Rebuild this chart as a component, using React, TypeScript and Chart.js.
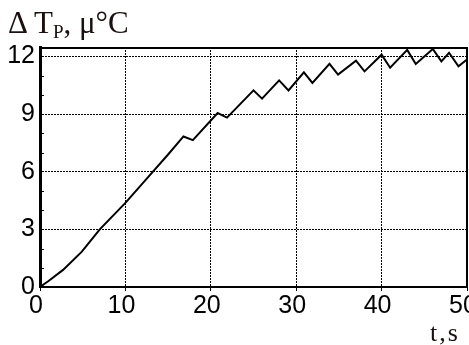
import React, { useEffect, useRef } from "react";
import { Chart, registerables } from "chart.js";

Chart.register(...registerables);

const times = [0, 1, 2.7, 4.9, 7, 10, 13.2, 15, 16.8, 17.9, 20.8, 21.9, 25, 26, 28, 29.1, 30.9, 31.9, 33.9, 34.9, 37, 38, 40, 41, 43, 44, 46, 47, 47.9, 49, 50];
const temps = [0, 0.31, 0.89, 1.84, 3.0, 4.38, 6.0, 6.9, 7.84, 7.65, 9.06, 8.82, 10.24, 9.81, 10.76, 10.24, 11.18, 10.63, 11.62, 11.06, 11.79, 11.23, 12.1, 11.42, 12.35, 11.62, 12.4, 11.75, 12.2, 11.49, 11.85];
const xTicks = [0, 10, 20, 30, 40, 50];
const yTicks = [0, 3, 6, 9, 12];
const yMinorTicks = [1, 2, 4, 5, 7, 8, 10, 11];

const frame = {
  id: "frame",
  afterDatasetsDraw(chart: any) {
    const { ctx, chartArea: a, scales } = chart;
    ctx.save();
    ctx.strokeStyle = "#000";
    ctx.lineWidth = 2;
    ctx.beginPath();
    ctx.moveTo(a.left, a.top + 1);
    ctx.lineTo(a.right, a.top + 1);
    ctx.moveTo(a.right, a.top);
    ctx.lineTo(a.right, a.bottom);
    ctx.stroke();
    ctx.lineWidth = 1;
    ctx.beginPath();
    for (const v of yMinorTicks) {
      const y = Math.round(scales.y.getPixelForValue(v)) + 0.5;
      ctx.moveTo(a.left, y);
      ctx.lineTo(a.left + 4, y);
    }
    ctx.stroke();
    ctx.restore();
  },
};

export default function App() {
  const ref = useRef<HTMLCanvasElement>(null);
  useEffect(() => {
    document.body.style.margin = "0";
    const chart = new Chart(ref.current!, {
      type: "line",
      data: {
        datasets: [
          {
            data: times.map((t, i) => ({ x: t, y: temps[i] })),
            borderColor: "#000",
            borderWidth: 2,
            pointRadius: 0,
            tension: 0,
          },
        ],
      },
      options: {
        animation: false,
        responsive: false,
        layout: { padding: { top: 47, right: 2, left: 0, bottom: 0 } },
        plugins: { legend: { display: false }, tooltip: { enabled: false } },
        scales: {
          x: {
            type: "linear",
            min: 0,
            max: 50,
            afterBuildTicks: (s: any) => {
              s.ticks = xTicks.map((v) => ({ value: v }));
            },
            afterFit: (s: any) => {
              s.height = 58;
              s.paddingLeft = 0;
              s.paddingRight = 0;
            },
            grid: { color: "#000", lineWidth: 1, tickLength: 4, tickColor: "#000" },
            border: { color: "#000", width: 2, dash: [2, 1] },
            ticks: {
              color: "#000",
              padding: 0,
              labelOffset: -4,
              maxRotation: 0,
              autoSkip: false,
              font: { family: "'Liberation Sans', Arial, sans-serif", size: 25 },
            },
          },
          y: {
            min: 0,
            max: 12.5,
            afterBuildTicks: (s: any) => {
              s.ticks = yTicks.map((v) => ({ value: v }));
            },
            afterFit: (s: any) => {
              s.width = 40;
            },
            grid: { color: "#000", lineWidth: 1, drawTicks: false },
            border: { color: "#000", width: 3, dash: [2, 1] },
            ticks: {
              color: "#000",
              padding: 5,
              autoSkip: false,
              font: { family: "'Liberation Sans', Arial, sans-serif", size: 25 },
            },
          },
        },
      },
      plugins: [frame],
    });
    return () => chart.destroy();
  }, []);

  return (
    <div style={{ position: "fixed", left: 0, top: 0, width: 469, height: 345, background: "#fff" }}>
      <canvas ref={ref} width={469} height={345} style={{ display: "block" }} />
      <div
        style={{
          position: "absolute",
          left: 8,
          top: 5,
          fontFamily: "'Liberation Serif', 'Times New Roman', serif",
          fontSize: 31,
          whiteSpace: "nowrap",
          color: "#1a1010",
        }}
      >
        Δ T<span style={{ fontSize: 19, position: "relative", top: 5 }}>P</span>, μ°C
      </div>
      <div
        style={{
          position: "absolute",
          left: 430,
          top: 318,
          fontFamily: "'Liberation Serif', 'Times New Roman', serif",
          fontSize: 26,
          letterSpacing: 2,
          whiteSpace: "nowrap",
          color: "#1a1010",
        }}
      >
        t,s
      </div>
    </div>
  );
}
